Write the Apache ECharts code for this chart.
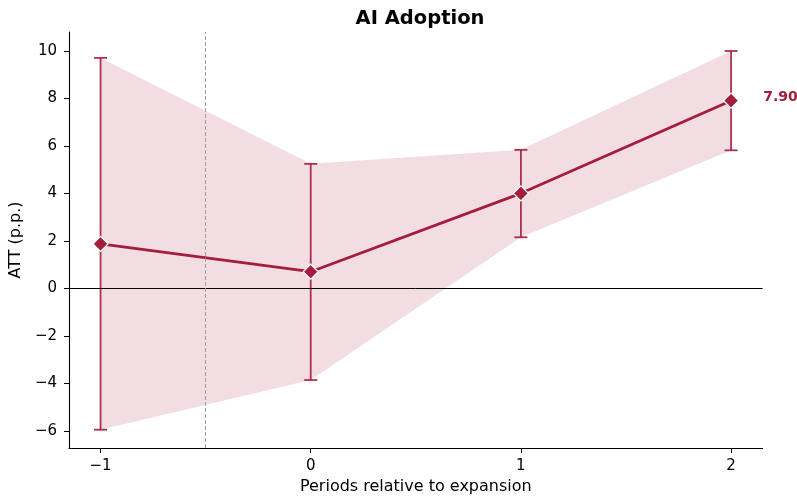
<!DOCTYPE html>
<html>
<head>
<meta charset="utf-8">
<script src="https://cdn.jsdelivr.net/npm/echarts@6/dist/echarts.min.js"></script>
<style>html,body{margin:0;padding:0;background:#fff;}#chart{width:797px;height:500px;}</style>
</head>
<body>
<div id="chart"></div>
<script>
const periods = [-1, 0, 1, 2];
const att = [1.87, 0.70, 4.00, 7.90];
const ciLow = [-5.95, -3.86, 2.15, 5.81];
const ciHigh = [9.70, 5.24, 5.83, 9.99];
const xTicks = [-1, 0, 1, 2];
const yTicks = [-6, -4, -2, 0, 2, 4, 6, 8, 10];
const treatmentBoundary = -0.5;

const RED = '#a51c3d';
const FONT = 'DejaVu Sans';
const fmt = v => String(v).replace('-', '\u2212');

const chart = echarts.init(document.getElementById('chart'), null, {renderer: 'canvas'});

const rows = periods.map((p, i) => [p, ciLow[i], ciHigh[i]]);

chart.setOption({
  animation: false,
  backgroundColor: '#fff',
  title: {
    text: 'AI Adoption', left: 415, top: 4, textAlign: 'center',
    textStyle: {fontFamily: FONT, fontSize: 19.5, fontWeight: 'bold', color: '#000'}
  },
  grid: {left: 68, right: 34.4, top: 32, bottom: 52, containLabel: false},
  xAxis: {
    type: 'value', min: -1.15, max: 2.15,
    name: 'Periods relative to expansion', nameLocation: 'middle', nameGap: 31,
    nameTextStyle: {fontFamily: FONT, fontSize: 16, color: '#000'},
    axisLine: {show: true, onZero: false, lineStyle: {color: '#000', width: 1.1}},
    axisTick: {show: true, customValues: xTicks, length: 5, lineStyle: {color: '#000', width: 1}},
    axisLabel: {customValues: xTicks, margin: 11, formatter: fmt, fontFamily: FONT, fontSize: 15, color: '#000'},
    splitLine: {show: false}
  },
  yAxis: {
    type: 'value', min: -6.72, max: 10.79,
    name: 'ATT (p.p.)', nameLocation: 'middle', nameGap: 40, nameRotate: 90,
    nameTextStyle: {fontFamily: FONT, fontSize: 16, color: '#000'},
    axisLine: {show: true, onZero: false, lineStyle: {color: '#000', width: 1.1}},
    axisTick: {show: true, customValues: yTicks, length: 5, lineStyle: {color: '#000', width: 1}},
    axisLabel: {customValues: yTicks, margin: 12, formatter: fmt, fontFamily: FONT, fontSize: 15, color: '#000'},
    splitLine: {show: false}
  },
  series: [
    {
      type: 'custom', z: 1, silent: true,
      data: rows,
      encode: {x: 0, y: [1, 2]},
      renderItem: function (params, api) {
        if (params.dataIndex !== 0) return null;
        const pts = [];
        for (let i = 0; i < periods.length; i++) pts.push(api.coord([periods[i], ciHigh[i]]));
        for (let i = periods.length - 1; i >= 0; i--) pts.push(api.coord([periods[i], ciLow[i]]));
        return {type: 'polygon', shape: {points: pts}, style: {fill: RED, opacity: 0.15}};
      },
      markLine: {
        silent: true, symbol: 'none', label: {show: false},
        data: [
          {yAxis: 0, lineStyle: {color: '#000', width: 1, type: 'solid'}},
          {xAxis: treatmentBoundary, lineStyle: {color: '#a0a0a0', width: 1, type: [4, 2]}}
        ]
      }
    },
    {
      type: 'custom', z: 3, silent: true,
      data: rows,
      encode: {x: 0, y: [1, 2]},
      renderItem: function (params, api) {
        const x = api.value(0);
        const lo = api.coord([x, api.value(1)]);
        const hi = api.coord([x, api.value(2)]);
        const cw = 6.5;
        const st = {stroke: RED, lineWidth: 1.8, opacity: 0.9};
        return {
          type: 'group',
          children: [
            {type: 'line', shape: {x1: lo[0], y1: lo[1], x2: hi[0], y2: hi[1]}, style: st},
            {type: 'line', shape: {x1: lo[0] - cw, y1: lo[1], x2: lo[0] + cw, y2: lo[1]}, style: st},
            {type: 'line', shape: {x1: hi[0] - cw, y1: hi[1], x2: hi[0] + cw, y2: hi[1]}, style: st}
          ]
        };
      }
    },
    {
      type: 'line', z: 4,
      data: periods.map((p, i) => {
        const item = {value: [p, att[i]]};
        if (i === periods.length - 1) {
          item.label = {
            show: true, position: 'right', distance: 24, offset: [0, -3],
            formatter: d => d.value[1].toFixed(2),
            fontFamily: FONT, fontSize: 14, fontWeight: 'bold', color: RED
          };
        }
        return item;
      }),
      symbol: 'diamond', symbolSize: 15, showAllSymbol: true,
      lineStyle: {color: RED, width: 2.8},
      itemStyle: {color: RED, borderColor: '#fff', borderWidth: 1.2},
      emphasis: {disabled: true}
    }
  ]
});
</script>
</body>
</html>
